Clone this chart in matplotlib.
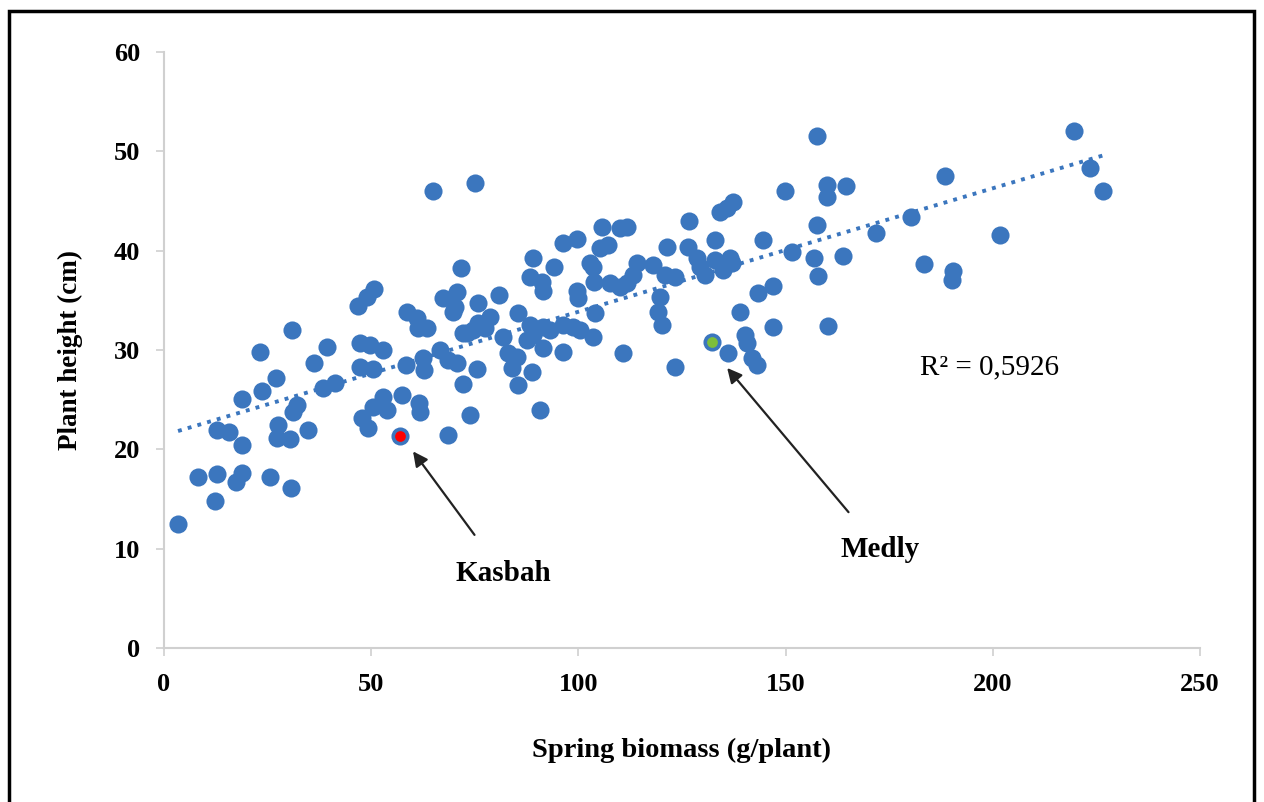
import numpy as np
import matplotlib.pyplot as plt
from matplotlib.patches import Rectangle

# Spring biomass (g/plant) / plant height (cm)
biomass = [3.4, 8.2, 12.3, 12.8, 12.8, 15.7, 17.4, 18.8, 18.8, 18.8, 23.2, 23.6, 25.6,
           27.0, 27.5, 27.3, 30.4, 30.6, 30.9, 31.1, 32.1, 34.7, 36.2, 38.4, 39.3, 41.3,
           46.8, 49.0, 50.7, 47.3, 49.7, 52.8, 47.3, 50.5, 47.8, 49.2, 50.4, 53.8, 52.8,
           57.4, 58.4, 58.6, 61.0, 61.3, 63.5, 61.5, 61.8, 62.5, 62.8, 64.9,
           66.6, 67.3, 68.5, 68.5, 69.7, 70.2, 70.7, 70.7, 71.7, 72.2, 72.2, 73.1, 73.8,
           74.6, 75.0, 75.5, 75.8, 75.8, 77.5, 78.7,
           80.8, 81.8, 83.0, 84.0, 85.2, 85.4, 85.4, 87.6, 88.3, 88.3, 88.8, 89.0, 89.0,
           90.7, 91.2, 91.5, 91.5, 91.5, 93.1, 94.1, 96.3, 96.3, 96.3, 98.7, 99.7, 99.7, 99.9,
           100.4, 102.8, 103.5, 103.5, 103.8, 104.0, 105.2, 105.7, 107.1, 107.6, 110.0,
           110.0, 110.8, 111.7, 111.7, 113.2, 114.1, 118.0, 119.7, 119.2, 120.2,
           120.9, 121.4, 123.3, 123.3, 126.4, 126.7, 128.6, 129.3, 130.5, 133.0, 133.0,
           134.1, 134.9, 135.8, 136.1, 136.6, 137.1, 137.3, 139.0,
           140.2, 140.7, 141.9, 143.1, 143.3, 144.5, 147.0, 147.0, 149.9, 151.5, 156.9,
           157.6, 157.6, 157.8, 160.0, 160.0, 160.2, 163.9, 164.6, 171.8, 180.3, 183.4,
           188.5, 190.4, 190.2, 201.7, 219.6, 223.5, 226.6]
height = [12.5, 17.2, 14.8, 17.5, 22.0, 21.8, 16.7, 17.6, 20.4, 25.1, 29.8, 25.9, 17.2,
          27.2, 22.5, 21.1, 21.0, 16.1, 32.0, 23.8, 24.5, 22.0, 28.7, 26.2, 30.3, 26.7,
          34.4, 35.3, 36.1, 30.7, 30.5, 30.0, 28.3, 28.1, 23.2, 22.2, 24.3, 24.0, 25.3,
          25.5, 28.5, 33.8, 33.2, 32.2, 32.2, 24.7, 23.8, 29.2, 28.0, 46.0,
          30.0, 35.2, 29.0, 21.4, 33.8, 34.3, 35.8, 28.7, 38.3, 31.7, 26.6, 31.7, 23.5,
          32.0, 46.8, 28.1, 34.7, 32.7, 32.2, 33.3,
          35.5, 31.3, 29.7, 28.2, 29.3, 26.5, 33.7, 31.0, 32.5, 37.4, 27.8, 39.3, 31.5,
          24.0, 36.9, 35.9, 32.3, 30.2, 32.0, 38.4, 40.8, 32.5, 29.8, 32.3, 41.2, 35.9, 35.2,
          32.0, 38.8, 38.4, 31.3, 36.9, 33.7, 40.3, 42.4, 40.6, 36.8, 42.3,
          36.4, 29.7, 42.4, 36.8, 37.6, 38.8, 38.6, 35.3, 33.8, 32.5,
          37.6, 40.4, 37.4, 28.3, 40.4, 43.0, 39.3, 38.4, 37.6, 41.1, 39.1,
          43.9, 38.1, 44.3, 29.7, 39.3, 38.8, 44.9, 33.8,
          31.5, 30.7, 29.2, 28.5, 35.7, 41.1, 36.5, 32.3, 46.0, 39.9, 39.3,
          51.6, 42.6, 37.5, 46.6, 45.4, 32.4, 39.5, 46.5, 41.8, 43.4, 38.7,
          47.5, 38.0, 37.1, 41.6, 52.1, 48.3, 46.0]

# highlighted cultivars
kasbah = (57.0, 21.3)
medly = (132.2, 30.8)
r2_text = 'R² = 0,5926'

blue = '#3B76BE'
grey = '#D0D0D0'
serif = ['Liberation Serif', 'DejaVu Serif']

fig = plt.figure(figsize=(12.64, 8.02), dpi=100)
ax = fig.add_axes([0.1297, 0.192, 0.8197, 0.743])

ax.scatter(biomass + [kasbah[0], medly[0]], height + [kasbah[1], medly[1]],
           s=170, color=blue, linewidths=0, zorder=3)
ax.scatter([kasbah[0]], [kasbah[1]], s=60, color='#FF0000', linewidths=0, zorder=4)
ax.scatter([medly[0]], [medly[1]], s=60, color='#7DBE3C', linewidths=0, zorder=4)

# linear trend line
allx = np.array(biomass + [kasbah[0], medly[0]])
ally = np.array(height + [kasbah[1], medly[1]])
k, b = np.polyfit(allx, ally, 1)
tx = np.array([allx.min(), allx.max()])
ax.plot(tx, k * tx + b, linestyle=(0, (1, 1.6)), color=blue, linewidth=2.8, zorder=2)

ax.text(182.4, 28.3, r2_text, fontsize=21, family=serif, va='center', ha='left')

ax.annotate('Kasbah', xy=(60.1, 19.8), xytext=(81.8, 7.5),
            fontsize=21, fontweight='bold', family=serif, ha='center', va='center',
            arrowprops=dict(arrowstyle='-|>', color='#222222', lw=1.6,
                            mutation_scale=22, shrinkA=20, shrinkB=0))
ax.annotate('Medly', xy=(135.9, 28.2), xytext=(172.8, 9.9),
            fontsize=21, fontweight='bold', family=serif, ha='center', va='center',
            arrowprops=dict(arrowstyle='-|>', color='#222222', lw=1.6,
                            mutation_scale=22, shrinkA=20, shrinkB=0))

ax.set_xlim(0, 250)
ax.set_ylim(0, 60)
ax.set_xticks(range(0, 251, 50))
ax.set_yticks(range(0, 61, 10))
for s in ['top', 'right']:
    ax.spines[s].set_visible(False)
for s in ['left', 'bottom']:
    ax.spines[s].set_color(grey)
    ax.spines[s].set_linewidth(1.5)
ax.tick_params(direction='out', length=6, width=1.2, color=grey)
ax.tick_params(axis='x', pad=12)
ax.tick_params(axis='y', pad=11)
for lab in ax.get_xticklabels() + ax.get_yticklabels():
    lab.set_family(serif)
    lab.set_fontweight('bold')
    lab.set_fontsize(19)

ax.set_xlabel('Spring biomass (g/plant)', fontsize=20.5, fontweight='bold',
              family=serif, labelpad=30)
ax.set_ylabel('Plant height (cm)', fontsize=19.5, fontweight='bold',
              family=serif, labelpad=22)

# outer frame
fig.patches.append(Rectangle((0.0071, -0.02), 0.985, 1.006, transform=fig.transFigure,
                             fill=False, edgecolor='black', linewidth=2.5))

fig.savefig('out.png', dpi=100)
